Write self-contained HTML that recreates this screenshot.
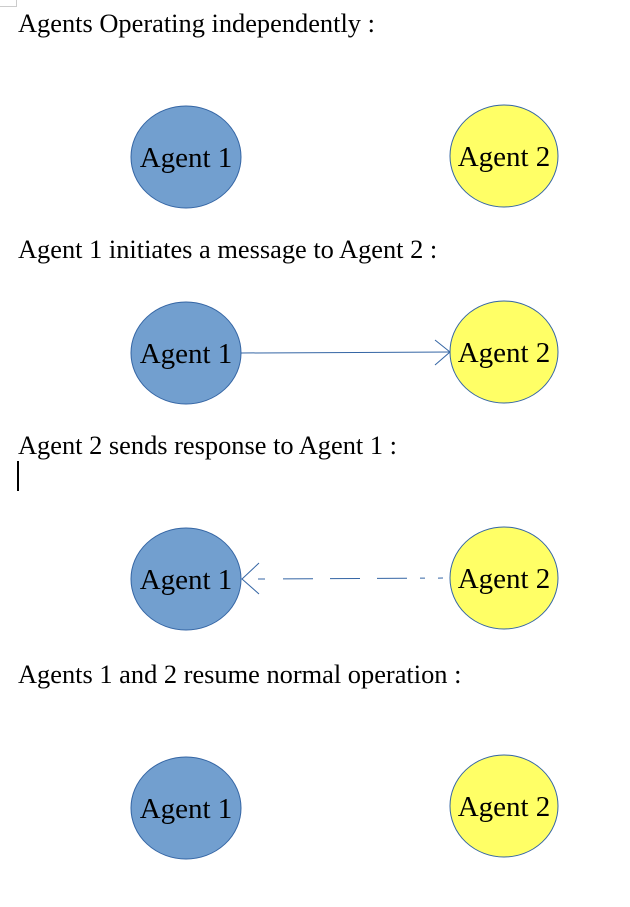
<!DOCTYPE html>
<html><head><meta charset="utf-8"><style>
html,body{margin:0;padding:0;background:#fff;}
body{width:630px;height:907px;position:relative;overflow:hidden;font-family:"Liberation Serif",serif;}
.t{position:absolute;left:18px;font-size:26.4px;color:#000;white-space:nowrap;line-height:1;}
svg{position:absolute;left:0;top:0;}
</style></head><body>
<div style="position:absolute;left:0;top:0;width:16px;height:6px;border-right:1px solid #ccc;border-bottom:1px solid #ccc;"></div>
<div class="t" style="top:10px">Agents Operating independently :</div>
<div class="t" style="top:236px">Agent 1 initiates a message to Agent 2 :</div>
<div class="t" style="top:432px">Agent 2 sends response to Agent 1 :</div>
<div style="position:absolute;left:17px;top:461px;width:2px;height:30px;background:#000;"></div>
<div class="t" style="top:661px">Agents 1 and 2 resume normal operation :</div>
<svg width="630" height="907" font-family="Liberation Serif, serif" font-size="29">
<g>
<ellipse cx="186" cy="157" rx="55" ry="51" fill="#729fcf" stroke="#3465a4"/>
<text x="186" y="167" text-anchor="middle">Agent 1</text>
<ellipse cx="504" cy="156" rx="54" ry="51" fill="#ffff66" stroke="#3465a4"/>
<text x="504" y="166" text-anchor="middle">Agent 2</text>
</g>
<g>
<ellipse cx="186" cy="353" rx="55" ry="51" fill="#729fcf" stroke="#3465a4"/>
<text x="186" y="363" text-anchor="middle">Agent 1</text>
<ellipse cx="504" cy="352" rx="54" ry="51" fill="#ffff66" stroke="#3465a4"/>
<text x="504" y="362" text-anchor="middle">Agent 2</text>
<g stroke="#3465a4" fill="none" stroke-width="1">
<line x1="241" y1="353" x2="450" y2="352"/>
<polyline points="435,340 450,352 435,365"/>
</g>
</g>
<g>
<ellipse cx="186" cy="579" rx="55" ry="51" fill="#729fcf" stroke="#3465a4"/>
<text x="186" y="589" text-anchor="middle">Agent 1</text>
<ellipse cx="504" cy="578" rx="54" ry="51" fill="#ffff66" stroke="#3465a4"/>
<text x="504" y="588" text-anchor="middle">Agent 2</text>
<g stroke="#3465a4" fill="none" stroke-width="1">
<line x1="258" y1="579" x2="450" y2="578" stroke-dasharray="7,18 30,17 30,17 30,13 5,13 5,8"/>
<polyline points="259,563 242,579 259,594"/>
</g>
</g>
<g>
<ellipse cx="186" cy="808" rx="55" ry="51" fill="#729fcf" stroke="#3465a4"/>
<text x="186" y="818" text-anchor="middle">Agent 1</text>
<ellipse cx="504" cy="806" rx="54" ry="51" fill="#ffff66" stroke="#3465a4"/>
<text x="504" y="816" text-anchor="middle">Agent 2</text>
</g>
</svg>
</body></html>
